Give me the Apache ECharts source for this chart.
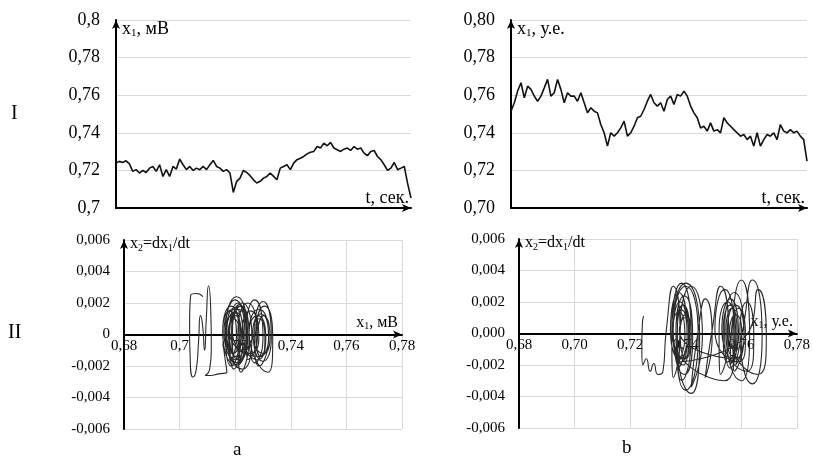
<!DOCTYPE html>
<html>
<head>
<meta charset="utf-8">
<script src="https://cdn.jsdelivr.net/npm/echarts@6/dist/echarts.min.js"></script>
<style>
  html, body { margin: 0; background: #fff; }
  #main { width: 813px; height: 467px; }
</style>
</head>
<body>
<div id="main"></div>
<script>
// I-a: x1(t), мВ
const seriesIa = [
  0.7239, 0.7248, 0.7242, 0.7251, 0.7235, 0.7195, 0.7204, 0.7186, 0.7200, 0.7189,
  0.7212, 0.7221, 0.7195, 0.7230, 0.7168, 0.7204, 0.7168, 0.7221, 0.7207, 0.7260,
  0.7230, 0.7204, 0.7221, 0.7200, 0.7212, 0.7204, 0.7221, 0.7204, 0.7230, 0.7253,
  0.7221, 0.7212, 0.7195, 0.7204, 0.7186, 0.7083, 0.7142, 0.7159, 0.7200, 0.7189,
  0.7172, 0.7150, 0.7133, 0.7142, 0.7159, 0.7168, 0.7186, 0.7168, 0.7150, 0.7212,
  0.7221, 0.7230, 0.7204, 0.7239, 0.7257, 0.7265, 0.7274, 0.7288, 0.7296, 0.7301,
  0.7327, 0.7319, 0.7345, 0.7331, 0.7349, 0.7319, 0.7310, 0.7301, 0.7313, 0.7319,
  0.7306, 0.7327, 0.7313, 0.7319, 0.7292, 0.7278, 0.7301, 0.7306, 0.7274, 0.7257,
  0.7230, 0.7200, 0.7212, 0.7242, 0.7204, 0.7212, 0.7221, 0.7130, 0.7053
];

// I-b: x1(t), у.е.
const seriesIb = [
  0.7515, 0.7560, 0.7622, 0.7666, 0.7586, 0.7648, 0.7631, 0.7595, 0.7568, 0.7595,
  0.7639, 0.7684, 0.7595, 0.7613, 0.7684, 0.7631, 0.7560, 0.7613, 0.7595, 0.7595,
  0.7568, 0.7613, 0.7560, 0.7506, 0.7533, 0.7515, 0.7506, 0.7444, 0.7400, 0.7329,
  0.7400, 0.7382, 0.7400, 0.7426, 0.7462, 0.7382, 0.7400, 0.7435, 0.7480, 0.7488,
  0.7524, 0.7568, 0.7604, 0.7560, 0.7542, 0.7560, 0.7515, 0.7577, 0.7595, 0.7551,
  0.7604, 0.7595, 0.7622, 0.7595, 0.7542, 0.7506, 0.7480, 0.7426, 0.7435, 0.7409,
  0.7453, 0.7409, 0.7417, 0.7400, 0.7480, 0.7453, 0.7435, 0.7417, 0.7400, 0.7382,
  0.7391, 0.7364, 0.7382, 0.7329, 0.7400, 0.7329, 0.7364, 0.7391, 0.7382, 0.7400,
  0.7364, 0.7444, 0.7409, 0.7400, 0.7417, 0.7400, 0.7409, 0.7382, 0.7364, 0.7249
];

// II-a: phase portrait [x1 (мВ), x2 = dx1/dt]
const phaseIIa = [
  [0.7084, 0.0024], [0.7060, 0.0026], [0.7040, 0.0025], [0.7036, 0.0005], [0.7038, -0.0015],
  [0.7048, -0.0027], [0.7060, -0.0022], [0.7068, -0.0005], [0.7075, 0.0012], [0.7082, 0.0007],
  [0.7090, -0.0010], [0.7096, 0.0010], [0.7104, 0.0031], [0.7112, 0.0015], [0.7114, -0.0008],
  [0.7108, -0.0022], [0.7092, -0.0026], [0.7110, -0.0026], [0.7140, -0.0025], [0.7170, -0.0024],
  [0.7155, 0.0002], [0.7185, 0.0018], [0.7215, -0.0002], [0.7185, -0.0020],
  [0.7165, 0.0002], [0.7200, 0.0022], [0.7235, -0.0002], [0.7200, -0.0016],
  [0.7170, 0.0002], [0.7195, 0.0014], [0.7220, -0.0002], [0.7195, -0.0022],
  [0.7180, 0.0002], [0.7210, 0.0020], [0.7240, -0.0002], [0.7210, -0.0018],
  [0.7160, 0.0002], [0.7190, 0.0016], [0.7220, -0.0002], [0.7190, -0.0012],
  [0.7165, 0.0002], [0.7205, 0.0024], [0.7245, -0.0002], [0.7205, -0.0020],
  [0.7190, 0.0002], [0.7220, 0.0018], [0.7250, -0.0002], [0.7220, -0.0024],
  [0.7210, 0.0002], [0.7245, 0.0020], [0.7280, -0.0002], [0.7245, -0.0016],
  [0.7240, 0.0002], [0.7270, 0.0022], [0.7300, -0.0002], [0.7270, -0.0018],
  [0.7250, 0.0002], [0.7285, 0.0016], [0.7320, -0.0002], [0.7285, -0.0020],
  [0.7270, 0.0002], [0.7300, 0.0021], [0.7330, -0.0002], [0.7300, -0.0017],
  [0.7264, 0.0002], [0.7292, 0.0013], [0.7320, -0.0002], [0.7292, -0.0014],
  [0.7275, 0.0002], [0.7305, 0.0018], [0.7335, -0.0002], [0.7318, -0.0024],
  [0.7250, 0.0002], [0.7280, 0.0012], [0.7310, -0.0002], [0.7280, -0.0016],
  [0.7225, 0.0002], [0.7255, 0.0015], [0.7285, -0.0002], [0.7255, -0.0012],
  [0.7190, 0.0002], [0.7225, 0.0020], [0.7260, -0.0002], [0.7225, -0.0022],
  [0.7168, 0.0002], [0.7198, 0.0017], [0.7228, -0.0002], [0.7198, -0.0019],
  [0.7155, 0.0002], [0.7180, 0.0015], [0.7205, -0.0002], [0.7180, -0.0018],
  [0.7178, 0.0002], [0.7200, 0.0012], [0.7222, -0.0002], [0.7200, -0.0014],
  [0.7187, 0.0002], [0.7215, 0.0019], [0.7243, -0.0002], [0.7215, -0.0016],
  [0.7175, 0.0002], [0.7195, 0.0010], [0.7215, -0.0002], [0.7195, -0.0012],
  [0.7180, 0.0002], [0.7210, 0.0016], [0.7240, -0.0002], [0.7210, -0.0020],
  [0.7275, 0.0002], [0.7300, 0.0012], [0.7325, -0.0002], [0.7300, -0.0012],
  [0.7263, 0.0002], [0.7285, 0.0010], [0.7307, -0.0002], [0.7285, -0.0014],
  [0.7180, 0.0002], [0.7205, 0.0014], [0.7230, -0.0002], [0.7205, -0.0010]
];

// II-b: phase portrait [x1 (у.е.), x2 = dx1/dt]
const phaseIIb = [
  [0.7248, 0.0011], [0.7244, 0.0006], [0.7242, -0.0010], [0.7246, -0.0020], [0.7258, -0.0016],
  [0.7272, -0.0024], [0.7285, -0.0019], [0.7300, -0.0026], [0.7318, -0.0024],
  [0.7330, 0.0002], [0.7355, 0.0030], [0.7380, -0.0002], [0.7355, -0.0028],
  [0.7350, 0.0002], [0.7385, 0.0032], [0.7420, -0.0002], [0.7385, -0.0030],
  [0.7370, 0.0002], [0.7390, 0.0018], [0.7410, -0.0002], [0.7390, -0.0020],
  [0.7355, 0.0002], [0.7380, 0.0020], [0.7405, -0.0002], [0.7380, -0.0016],
  [0.7365, 0.0002], [0.7395, 0.0024], [0.7425, -0.0002], [0.7395, -0.0026],
  [0.7355, 0.0002], [0.7400, 0.0030], [0.7445, -0.0002], [0.7400, -0.0036],
  [0.7365, 0.0002], [0.7385, 0.0015], [0.7405, -0.0002], [0.7385, -0.0018],
  [0.7345, 0.0002], [0.7375, 0.0026], [0.7405, -0.0002], [0.7375, -0.0022],
  [0.7380, 0.0002], [0.7400, 0.0012], [0.7420, -0.0002], [0.7400, -0.0016],
  [0.7380, 0.0002], [0.7420, 0.0030], [0.7460, -0.0002], [0.7420, -0.0034],
  [0.7445, 0.0002], [0.7470, 0.0022], [0.7495, -0.0002], [0.7470, -0.0028],
  [0.7495, 0.0002], [0.7525, 0.0030], [0.7555, -0.0002], [0.7525, -0.0026],
  [0.7520, 0.0002], [0.7550, 0.0020], [0.7580, -0.0002], [0.7550, -0.0018],
  [0.7535, 0.0002], [0.7560, 0.0018], [0.7585, -0.0002], [0.7560, -0.0022],
  [0.7540, 0.0002], [0.7575, 0.0026], [0.7610, -0.0002], [0.7575, -0.0024],
  [0.7570, 0.0002], [0.7600, 0.0034], [0.7630, -0.0002], [0.7600, -0.0030],
  [0.7545, 0.0002], [0.7565, 0.0016], [0.7585, -0.0002], [0.7565, -0.0014],
  [0.7550, 0.0002], [0.7580, 0.0018], [0.7610, -0.0002], [0.7580, -0.0020],
  [0.7605, 0.0002], [0.7640, 0.0034], [0.7675, -0.0002], [0.7640, -0.0032],
  [0.7595, 0.0002], [0.7620, 0.0020], [0.7645, -0.0002], [0.7620, -0.0024],
  [0.7530, 0.0002], [0.7560, 0.0022], [0.7590, -0.0002], [0.7560, -0.0020],
  [0.7565, 0.0002], [0.7590, 0.0016], [0.7615, -0.0002], [0.7590, -0.0018],
  [0.7505, 0.0002], [0.7540, 0.0028], [0.7575, -0.0002], [0.7540, -0.0030],
  [0.7350, 0.0002], [0.7400, 0.0032], [0.7450, -0.0002], [0.7420, -0.0038],
  [0.7365, 0.0002], [0.7390, 0.0018], [0.7415, -0.0002], [0.7390, -0.0016],
  [0.7353, 0.0002], [0.7375, 0.0014], [0.7397, -0.0002], [0.7375, -0.0018],
  [0.7630, 0.0002], [0.7660, 0.0028], [0.7690, -0.0002], [0.7660, -0.0026],
  [0.7558, 0.0002], [0.7580, 0.0012], [0.7602, -0.0002], [0.7580, -0.0016],
  [0.7377, 0.0002], [0.7395, 0.0010], [0.7413, -0.0002], [0.7395, -0.0012]
];

const serif = '"Liberation Serif", "Times New Roman", serif';
const gridColor = '#d9d9d9';

// excel-like number labels with comma
function general(v) { return String(+v.toFixed(3)).replace('.', ','); }
function fixed(n) { return v => (Math.abs(v) < 1e-9 ? 0 : v).toFixed(n).replace('.', ','); }

function axisLine(onZero) {
  return {
    show: true,
    onZero: onZero,
    symbol: ['none', 'arrow'],
    symbolSize: [6, 9],
    lineStyle: { color: '#000', width: 2 }
  };
}

function richName(size) {
  return {
    a: { fontFamily: serif, fontSize: size, color: '#000', lineHeight: size + 2 },
    s: { fontFamily: serif, fontSize: Math.round(size * 0.6), color: '#000', verticalAlign: 'bottom', lineHeight: Math.round(size * 0.6) }
  };
}

function timeX(grid, data) {
  return {
    gridIndex: grid,
    type: 'category',
    boundaryGap: false,
    data: data.map((_, i) => i),
    axisLine: axisLine(false),
    axisTick: { show: false },
    axisLabel: { show: false },
    splitLine: { show: false },
    name: 't, сек.',
    nameLocation: 'end',
    nameGap: -2,
    nameTextStyle: { fontFamily: serif, fontSize: 18, color: '#000', align: 'right', verticalAlign: 'bottom', padding: [0, 0, 1, 0] }
  };
}

function timeY(grid, fmt, name) {
  return {
    gridIndex: grid,
    type: 'value',
    min: 0.7,
    max: 0.8,
    interval: 0.02,
    axisLine: axisLine(false),
    axisTick: { show: false },
    axisLabel: { fontFamily: serif, fontSize: 18, color: '#000', margin: 16, formatter: fmt },
    splitLine: { lineStyle: { color: gridColor, width: 1 } },
    name: name,
    nameLocation: 'end',
    nameGap: -9,
    nameTextStyle: { align: 'left', verticalAlign: 'middle', padding: [0, 0, 0, 6], rich: richName(18) }
  };
}

// x axis of the phase plots sits at x2 = 0, i.e. half the grid height up
function phaseX(grid, fmt, name, lift) {
  return {
    gridIndex: grid,
    type: 'value',
    min: 0.68,
    max: 0.78,
    interval: 0.02,
    offset: -lift,
    axisLine: axisLine(false),
    axisTick: { show: false },
    axisLabel: { fontFamily: serif, fontSize: 15, color: '#000', margin: 4, formatter: fmt },
    splitLine: { show: true, lineStyle: { color: gridColor, width: 1 } },
    name: name,
    nameLocation: 'end',
    nameGap: -4,
    nameTextStyle: { align: 'right', verticalAlign: 'bottom', padding: [0, 0, 3, 0], rich: richName(16) }
  };
}

function phaseY(grid, fmt) {
  return {
    gridIndex: grid,
    type: 'value',
    min: -0.006,
    max: 0.006,
    interval: 0.002,
    axisLine: axisLine(false),
    axisTick: { show: false },
    axisLabel: { fontFamily: serif, fontSize: 15, color: '#000', margin: 14, formatter: fmt },
    splitLine: { lineStyle: { color: gridColor, width: 1 } },
    name: '{a|x}{s|2}{a|=dx}{s|1}{a|/dt}',
    nameLocation: 'end',
    nameGap: -4,
    nameTextStyle: { align: 'left', verticalAlign: 'middle', padding: [0, 0, 0, 6], rich: richName(16) }
  };
}

const chart = echarts.init(document.getElementById('main'), null, { renderer: 'canvas' });

chart.setOption({
  animation: false,
  backgroundColor: '#fff',
  grid: [
    { left: 116, top: 20, width: 295, height: 188 },
    { left: 511, top: 20, width: 296, height: 188 },
    { left: 124, top: 240, width: 278, height: 189 },
    { left: 519, top: 239, width: 278, height: 189 }
  ],
  xAxis: [
    timeX(0, seriesIa),
    timeX(1, seriesIb),
    phaseX(2, general, '{a|x}{s|1}{a|, мВ}', 94.5),
    phaseX(3, fixed(2), '{a|x}{s|1}{a|, у.е.}', 94.5)
  ],
  yAxis: [
    timeY(0, general, '{a|x}{s|1}{a|, мВ}'),
    timeY(1, fixed(2), '{a|x}{s|1}{a|, у.е.}'),
    phaseY(2, general),
    phaseY(3, fixed(3))
  ],
  series: [
    {
      type: 'line', xAxisIndex: 0, yAxisIndex: 0, data: seriesIa,
      showSymbol: false, lineStyle: { color: '#111', width: 1.6 }
    },
    {
      type: 'line', xAxisIndex: 1, yAxisIndex: 1, data: seriesIb,
      showSymbol: false, lineStyle: { color: '#111', width: 1.6 }
    },
    {
      type: 'line', xAxisIndex: 2, yAxisIndex: 2, data: phaseIIa,
      showSymbol: false, smooth: 0.6, lineStyle: { color: '#2a2a2a', width: 1.1 }
    },
    {
      type: 'line', xAxisIndex: 3, yAxisIndex: 3, data: phaseIIb,
      showSymbol: false, smooth: 0.6, lineStyle: { color: '#2a2a2a', width: 1.1 }
    }
  ],
  graphic: [
    { type: 'text', left: 11, top: 104, style: { text: 'I', font: '20px ' + serif, fill: '#000' } },
    { type: 'text', left: 8, top: 323, style: { text: 'II', font: '20px ' + serif, fill: '#000' } },
    { type: 'text', left: 233, top: 441, style: { text: 'a', font: '19px ' + serif, fill: '#000' } },
    { type: 'text', left: 622, top: 439, style: { text: 'b', font: '19px ' + serif, fill: '#000' } }
  ]
});
</script>
</body>
</html>
